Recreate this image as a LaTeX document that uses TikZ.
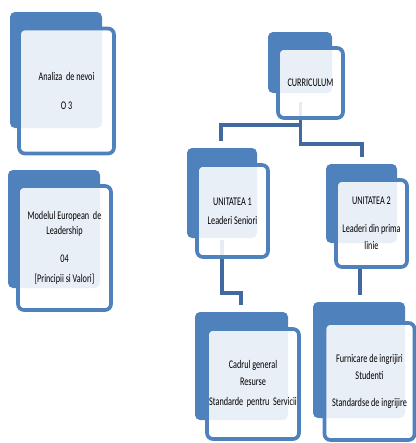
\documentclass[tikz,border=0pt]{standalone}
\usepackage{fontspec}
\newfontfamily\boxfont[FakeStretch=0.7]{Carlito}
\usetikzlibrary{calc,backgrounds}
\definecolor{boxblue}{RGB}{79,129,189}
\definecolor{lineblue}{RGB}{65,105,160}

\begin{document}
\begin{tikzpicture}[x=0.03cm, y=-0.03cm,
	backbox/.style={fill=boxblue, rounded corners=0.15cm},
	frontbox/.style={draw=boxblue, line width=0.11cm, rounded corners=0.18cm, fill=white, fill opacity=0.88, text opacity=1, align=center, inner sep=0pt, font=\boxfont\fontsize{10}{12}\selectfont},
	conn/.style={draw=lineblue, line width=0.11cm}]
	\useasboundingbox (0,0) rectangle (416,443);
	\clip (0,0) rectangle (416,443);
	% back rectangles
	\fill[backbox] (10,12) rectangle (102,128);
	\fill[backbox] (8,170) rectangle (100,288);
	\fill[backbox] (268,32) rectangle (332,93);
	\fill[backbox] (187,148) rectangle (257,238);
	\fill[backbox] (326,164) rectangle (397,243);
	\fill[backbox] (195,312) rectangle (288,420);
	\fill[backbox] (313,302) rectangle (405,418);
	% front boxes
	\node[frontbox, minimum width=2.85cm, minimum height=3.75cm] (nevoi) at (66.5,91) {Analiza\ \ de nevoi\\[12pt] O 3};
	\node[frontbox, minimum width=2.79cm, minimum height=3.72cm] (model) at (64.5,248) {Modelul European\ \ de\\[1pt] Leadership\\[12pt] 04\\[5pt] [Principii si Valori]};
	\node[frontbox, minimum width=1.95cm, minimum height=2.1cm] (curr) at (310.5,83) {CURRICULUM};
	\node[frontbox, minimum width=2.13cm, minimum height=2.76cm] (unit1) at (232.5,211) {UNITATEA 1\\[4pt] Leaderi Seniori};
	\node[frontbox, minimum width=2.13cm, minimum height=2.61cm] (unit2) at (371.5,223.5) {UNITATEA 2\\[12pt] Leaderi din prima\\[2.5pt] linie};
	\node[frontbox, minimum width=2.76cm, minimum height=3.3cm] (cadrul) at (253,384) {Cadrul general\\[3pt] Resurse\\[5pt] Standarde\ \ pentru\ \ Servicii};
	\node[frontbox, minimum width=2.7cm, minimum height=3.51cm] (furn) at (369.5,381.5) {Furnicare de ingrijiri\\[3pt] Studenti\\[11pt] Standardse de ingrijire};
	% legaturi
	\coordinate (unit1in) at (221,141);
	\coordinate (unit2in) at (362,157);
	\coordinate (cadrulin) at (241,305);
	\coordinate (furnin) at (360,295);
	\begin{scope}[on background layer]
		\draw[conn] ($(curr.south)+(-10,-18)$) -- ++(0,23) -| (unit1in);
		\draw[conn] ($(curr.south)+(-10,-18)$) -- ++(0,42) -| (unit2in);
		\draw[conn] ($(unit1.south)+(-10.5,-19)$) -- ++(0,53) -| (cadrulin);
		\draw[conn] (unit2.south -| furnin) -- (furnin);
	\end{scope}
\end{tikzpicture}
\end{document}
